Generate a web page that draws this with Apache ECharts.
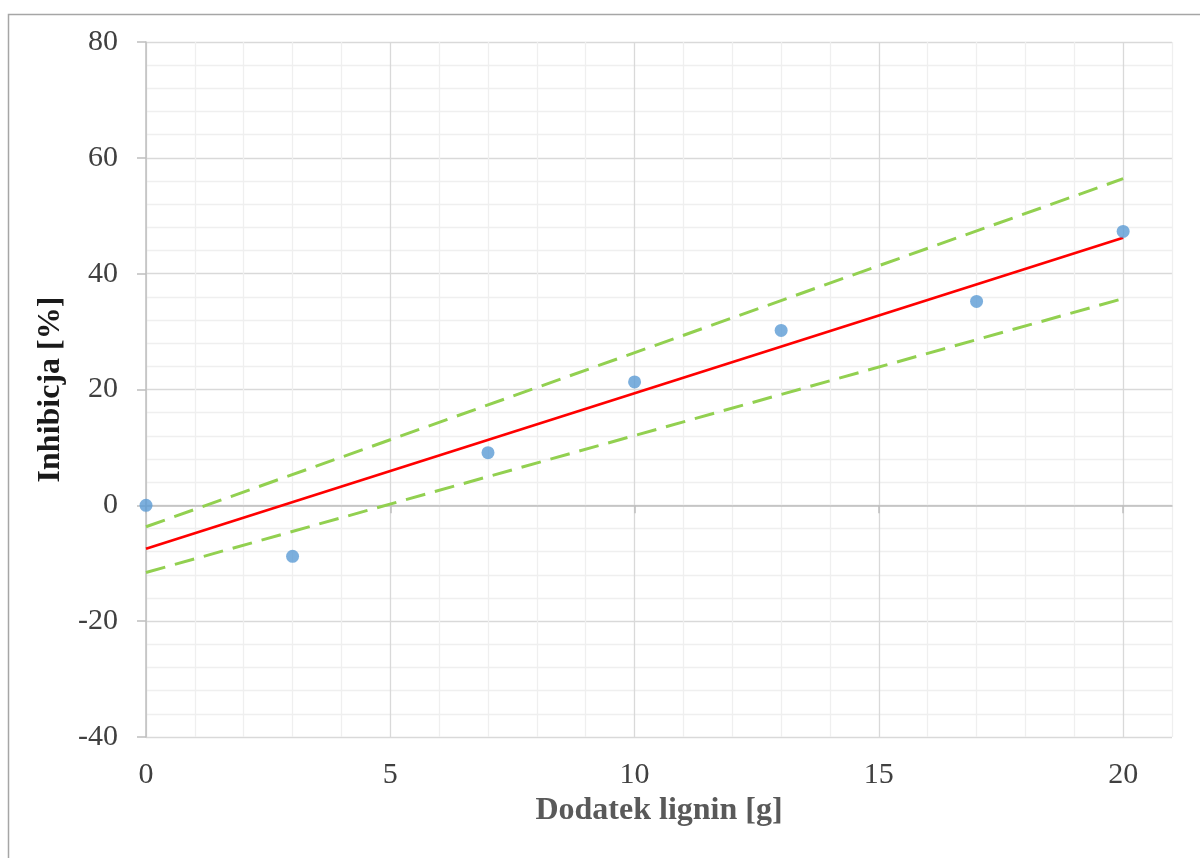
<!DOCTYPE html>
<html>
<head>
<meta charset="utf-8">
<script src="https://cdn.jsdelivr.net/npm/echarts@6/dist/echarts.min.js"></script>
<style>
html,body{margin:0;padding:0;background:#fff;}
#chart{width:1200px;height:858px;}
</style>
</head>
<body>
<div id="chart"></div>
<script>
// Data
const xValues = [0, 3, 7, 10, 13, 17, 20];
const inhibition = [0, -8.8, 9.1, 21.3, 30.2, 35.2, 47.3];
const fitX = [0, 20];
const fitLine = [-7.5, 46.2];
const upperBound = [-3.7, 56.4];
const lowerBound = [-11.6, 35.7];
const xTickLabels = [0, 5, 10, 15, 20];
const yTickLabels = [-40, -20, 0, 20, 40, 60, 80];

const serif = '"Liberation Serif", "DejaVu Serif", serif';
const chart = echarts.init(document.getElementById('chart'));

const pair = (xs, ys) => xs.map((x, i) => [x, ys[i]]);

chart.setOption({
  animation: false,
  backgroundColor: '#fff',
  graphic: [{
    type: 'rect', left: 6, top: 12,
    shape: { width: 1300, height: 1000 },
    style: { fill: 'none', stroke: '#a6a6a6', lineWidth: 1.5 },
    z: -1
  }],
  grid: { left: 146, top: 42, right: 28, bottom: 121, containLabel: false },
  xAxis: [
    { // minor + major grid
      type: 'value', min: 0, max: 21, interval: 1, position: 'bottom',
      axisLine: { show: false }, axisTick: { show: false }, axisLabel: { show: false },
      splitLine: { show: true, lineStyle: { width: 1.3, color: ['#d9d9d9', '#efefef', '#efefef', '#efefef', '#efefef'] } }
    },
    { // axis line at zero with ticks
      type: 'value', min: 0, max: 21, interval: 5, position: 'bottom',
      axisLine: { show: true, onZero: true, onZeroAxisIndex: 1, lineStyle: { color: '#bfbfbf', width: 1.5 } },
      axisTick: { show: true, inside: false, length: 8, customValues: xTickLabels, lineStyle: { color: '#bfbfbf', width: 1.5 } },
      axisLabel: { show: false }, splitLine: { show: false }
    },
    { // labels at bottom
      type: 'value', min: 0, max: 21, interval: 5, position: 'bottom',
      axisLine: { show: false, onZero: false }, axisTick: { show: false },
      splitLine: { show: false },
      axisLabel: {
        show: true, margin: 23, fontFamily: serif, fontSize: 30, color: '#404040',
        showMaxLabel: false,
        formatter: v => (xTickLabels.indexOf(v) >= 0 ? String(v) : '')
      },
      name: 'Dodatek lignin [g]', nameLocation: 'middle', nameGap: 50,
      nameTextStyle: { fontFamily: serif, fontSize: 32, fontWeight: 'bold', color: '#595959' }
    }
  ],
  yAxis: [
    { // minor + major grid
      type: 'value', min: -40, max: 80, interval: 4, position: 'left',
      axisLine: { show: false }, axisTick: { show: false }, axisLabel: { show: false },
      splitLine: { show: true, lineStyle: { width: 1.3, color: ['#d9d9d9', '#efefef', '#efefef', '#efefef', '#efefef'] } }
    },
    {
      type: 'value', min: -40, max: 80, interval: 20, position: 'left',
      axisLine: { show: true, onZero: false, lineStyle: { color: '#bfbfbf', width: 1.5 } },
      axisTick: { show: true, inside: false, length: 9, lineStyle: { color: '#bfbfbf', width: 1.5 } },
      splitLine: { show: false },
      axisLabel: {
        show: true, margin: 28, fontFamily: serif, fontSize: 30, color: '#404040',
        formatter: v => (yTickLabels.indexOf(v) >= 0 ? String(v) : '')
      },
      name: 'Inhibicja [%]', nameLocation: 'middle', nameGap: 76, nameRotate: 90,
      nameTextStyle: { fontFamily: serif, fontSize: 32, fontWeight: 'bold', color: '#1a1a1a' }
    }
  ],
  series: [
    {
      type: 'line', xAxisIndex: 0, yAxisIndex: 0, data: pair(fitX, upperBound),
      showSymbol: false, symbol: 'none',
      lineStyle: { color: '#92d050', width: 3, type: [20, 10] }, z: 3
    },
    {
      type: 'line', xAxisIndex: 0, yAxisIndex: 0, data: pair(fitX, lowerBound),
      showSymbol: false, symbol: 'none',
      lineStyle: { color: '#92d050', width: 3, type: [20, 10] }, z: 3
    },
    {
      type: 'line', xAxisIndex: 0, yAxisIndex: 0, data: pair(fitX, fitLine),
      showSymbol: false, symbol: 'none',
      lineStyle: { color: '#ff0000', width: 2.8 }, z: 3
    },
    {
      type: 'scatter', xAxisIndex: 0, yAxisIndex: 0, data: pair(xValues, inhibition),
      symbol: 'circle', symbolSize: 13,
      itemStyle: { color: '#5b9bd5' }, z: 4
    }
  ]
});
</script>
</body>
</html>
